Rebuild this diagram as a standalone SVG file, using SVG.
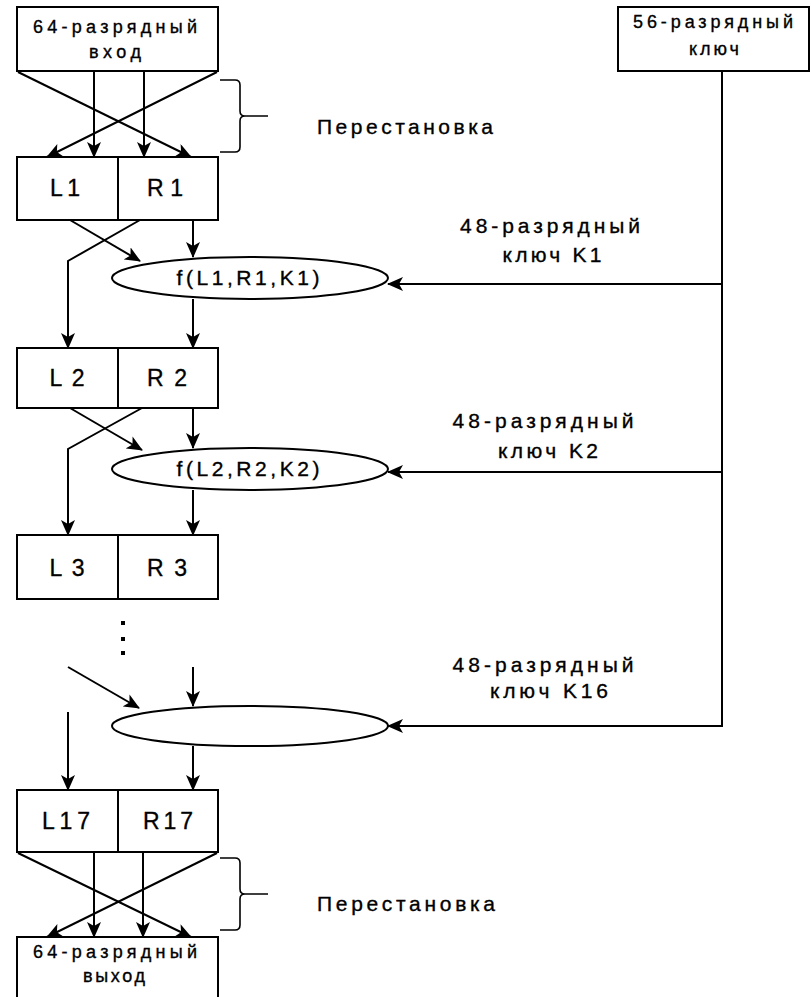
<svg xmlns="http://www.w3.org/2000/svg" width="811" height="997" viewBox="0 0 811 997">
<style>
  .box{fill:#fff;stroke:#000;stroke-width:2}
  .ln{fill:none;stroke:#000;stroke-width:2}
  .br{fill:none;stroke:#000;stroke-width:1.6}
  .arr{fill:none;stroke:#000;stroke-width:2;marker-end:url(#ah)}
  .t{font-family:"Liberation Sans",Arial,sans-serif;fill:#000;stroke:#000;stroke-width:0.35}
  .lab{font-size:21px}
  .big{font-size:23px}
  .sm{font-size:18px}
</style>
<defs>
  <marker id="ah" viewBox="0 0 16 14" refX="15" refY="7" markerWidth="16" markerHeight="14" markerUnits="userSpaceOnUse" orient="auto">
    <path d="M0,0 L16,7 L0,14 L4,7 z" fill="#000"/>
  </marker>
</defs>
<rect width="811" height="997" fill="#fff"/>

<g id="connectors">
  <line class="arr" x1="94" y1="72" x2="94" y2="157"/>
  <line class="arr" x1="144" y1="72" x2="144" y2="157"/>
  <line class="arr" x1="18" y1="72" x2="191" y2="157"/>
  <line class="arr" x1="217" y1="72" x2="47" y2="157"/>
  <line class="arr" x1="70" y1="220" x2="140" y2="261"/>
  <polyline class="arr" points="140,220 68,261 68,348"/>
  <line class="arr" x1="193" y1="220" x2="193" y2="257"/>
  <line class="arr" x1="193" y1="299" x2="193" y2="348"/>
  <line class="arr" x1="70" y1="408" x2="142" y2="450"/>
  <polyline class="arr" points="142,408 68,449 68,535"/>
  <line class="arr" x1="193" y1="408" x2="193" y2="448"/>
  <line class="arr" x1="193" y1="490" x2="193" y2="535"/>
  <line class="arr" x1="68" y1="667" x2="139" y2="708"/>
  <line class="arr" x1="193" y1="667" x2="193" y2="706"/>
  <line class="arr" x1="68" y1="712" x2="68" y2="790"/>
  <line class="arr" x1="193" y1="746" x2="193" y2="790"/>
  <line class="arr" x1="94" y1="853" x2="94" y2="937"/>
  <line class="arr" x1="143" y1="853" x2="143" y2="937"/>
  <line class="arr" x1="18" y1="853" x2="191" y2="937"/>
  <line class="arr" x1="217" y1="853" x2="47" y2="937"/>
  <polyline class="ln" points="722,72 722,726 400,726"/>
  <line class="arr" x1="722" y1="284" x2="388" y2="284"/>
  <line class="arr" x1="722" y1="472" x2="388" y2="472"/>
  <line class="arr" x1="722" y1="726" x2="388" y2="726"/>
  <path class="br" d="M220,80 L235,80 Q240,80 240,85 L240,111 Q240,116 245,116 L268,116 M245,116 Q240,116 240,121 L240,147 Q240,152 235,152 L220,152"/>
  <path class="br" d="M220,858 L235,858 Q240,858 240,863 L240,889 Q240,894 245,894 L268,894 M245,894 Q240,894 240,899 L240,925 Q240,930 235,930 L220,930"/>
</g>

<g id="input">
  <rect class="box" x="17" y="7" width="201" height="64"/>
  <text class="t sm" x="115" y="33" text-anchor="middle" textLength="164" lengthAdjust="spacing">64-разрядный</text>
  <text class="t sm" x="115" y="58" text-anchor="middle" textLength="52" lengthAdjust="spacing">вход</text>
</g>

<g id="key">
  <rect class="box" x="618" y="7" width="191" height="64"/>
  <text class="t sm" x="713" y="28" text-anchor="middle" textLength="160" lengthAdjust="spacing">56-разрядный</text>
  <text class="t sm" x="714" y="55" text-anchor="middle" textLength="50" lengthAdjust="spacing">ключ</text>
</g>

<g id="perm-top">
  <text class="t lab" x="317" y="134" textLength="176" lengthAdjust="spacing">Перестановка</text>
</g>

<g id="LR1">
  <rect class="box" x="17" y="157" width="201" height="63"/>
  <line class="ln" x1="118" y1="157" x2="118" y2="220"/>
  <text class="t big" x="65" y="196" text-anchor="middle" textLength="30" lengthAdjust="spacing">L1</text>
  <text class="t big" x="165" y="196" text-anchor="middle" textLength="36" lengthAdjust="spacing">R1</text>
</g>

<g id="f1">
  <ellipse class="box" cx="250" cy="278" rx="138" ry="21"/>
  <text class="t lab" x="248" y="285" text-anchor="middle" textLength="143" lengthAdjust="spacing">f(L1,R1,K1)</text>
</g>

<g id="k1-label">
  <text class="t lab" x="550" y="233" text-anchor="middle" textLength="180" lengthAdjust="spacing">48-разрядный</text>
  <text class="t lab" x="552" y="262" text-anchor="middle" textLength="99" lengthAdjust="spacing">ключ K1</text>
</g>

<g id="LR2">
  <rect class="box" x="17" y="348" width="201" height="60"/>
  <line class="ln" x1="118" y1="348" x2="118" y2="408"/>
  <text class="t big" x="67" y="386" text-anchor="middle" textLength="35" lengthAdjust="spacing">L2</text>
  <text class="t big" x="167" y="386" text-anchor="middle" textLength="40" lengthAdjust="spacing">R2</text>
</g>

<g id="f2">
  <ellipse class="box" cx="250" cy="469" rx="138" ry="21"/>
  <text class="t lab" x="248" y="476" text-anchor="middle" textLength="143" lengthAdjust="spacing">f(L2,R2,K2)</text>
</g>

<g id="k2-label">
  <text class="t lab" x="543" y="428" text-anchor="middle" textLength="181" lengthAdjust="spacing">48-разрядный</text>
  <text class="t lab" x="548" y="458" text-anchor="middle" textLength="100" lengthAdjust="spacing">ключ K2</text>
</g>

<g id="LR3">
  <rect class="box" x="17" y="535" width="201" height="64"/>
  <line class="ln" x1="118" y1="535" x2="118" y2="599"/>
  <text class="t big" x="67" y="576" text-anchor="middle" textLength="35" lengthAdjust="spacing">L3</text>
  <text class="t big" x="167" y="576" text-anchor="middle" textLength="40" lengthAdjust="spacing">R3</text>
</g>

<g id="dots">
  <rect x="121" y="621" width="4" height="4" fill="#000"/>
  <rect x="121" y="637" width="4" height="4" fill="#000"/>
  <rect x="121" y="651" width="4" height="4" fill="#000"/>
</g>

<g id="f16">
  <ellipse class="box" cx="250" cy="726" rx="138" ry="20"/>
</g>

<g id="k16-label">
  <text class="t lab" x="543" y="672" text-anchor="middle" textLength="181" lengthAdjust="spacing">48-разрядный</text>
  <text class="t lab" x="549" y="698" text-anchor="middle" textLength="118" lengthAdjust="spacing">ключ K16</text>
</g>

<g id="LR17">
  <rect class="box" x="17" y="790" width="201" height="62"/>
  <line class="ln" x1="118" y1="790" x2="118" y2="852"/>
  <text class="t big" x="66" y="829" text-anchor="middle" textLength="48" lengthAdjust="spacing">L17</text>
  <text class="t big" x="168" y="829" text-anchor="middle" textLength="50" lengthAdjust="spacing">R17</text>
</g>

<g id="perm-bottom">
  <text class="t lab" x="317" y="911" textLength="178" lengthAdjust="spacing">Перестановка</text>
</g>

<g id="output">
  <rect class="box" x="17" y="937" width="201" height="70"/>
  <text class="t sm" x="115" y="958" text-anchor="middle" textLength="164" lengthAdjust="spacing">64-разрядный</text>
  <text class="t sm" x="114" y="982" text-anchor="middle" textLength="62" lengthAdjust="spacing">выход</text>
</g>
</svg>
